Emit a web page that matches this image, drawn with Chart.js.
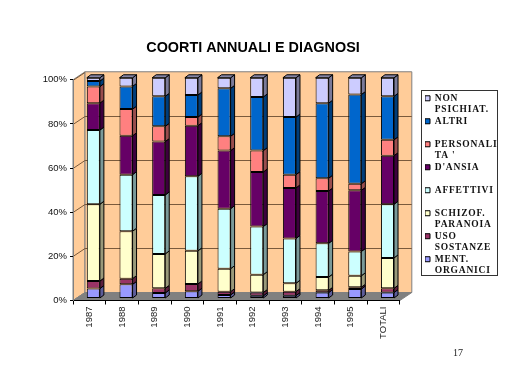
<!DOCTYPE html>
<html><head><meta charset="utf-8">
<style>html,body{margin:0;padding:0;background:#fff}#w{width:505px;height:379px;position:relative}</style>
<script src="https://cdn.jsdelivr.net/npm/chart.js@4"></script>
</head><body><div id="w"><canvas id="c" width="505" height="379"></canvas></div>
<script>
const categories = ['1987','1988','1989','1990','1991','1992','1993','1994','1995','TOTALI'];
const mentOrganici = [4.5,6.4,2.5,3.3,1.6,1.2,1.3,2.7,4.3,2.7];
const usoSostanze = [3.4,2.6,2.1,3.3,1.5,1.5,1.8,1.0,0.8,1.9];
const schizofParanoia = [34.8,21.5,15.6,15.0,10.4,8.1,3.8,6.0,5.2,13.8];
const affettivi = [33.6,25.6,26.7,33.8,27.2,21.8,20.3,15.3,11.0,24.3];
const ansia = [12.2,17.6,24.2,22.9,26.3,24.7,22.9,23.7,27.7,22.0];
const personalita = [7.5,12.1,6.9,3.9,6.5,9.7,6.0,5.8,3.0,7.2];
const altri = [2.5,10.3,13.6,10.0,21.7,24.3,26.1,34.0,40.4,19.7];
const nonPsichiat = [1.5,3.9,8.4,7.8,4.8,8.7,17.8,11.5,7.6,8.4];
const seriesLabels = [['MENT.','ORGANICI'],['USO','SOSTANZE'],['SCHIZOF.','PARANOIA'],['AFFETTIVI',''],["D'ANSIA",''],['PERSONALI',"TA '"],['ALTRI',''],['NON','PSICHIAT.']];
const seriesValues = [mentOrganici,usoSostanze,schizofParanoia,affettivi,ansia,personalita,altri,nonPsichiat];
const seriesColors = ['#9999FF','#993366','#FFFFCC','#CCFFFF','#660066','#FF8080','#0066CC','#CCCCFF'];

function shade(hex,f){
  const n=parseInt(hex.slice(1),16);
  return 'rgb('+[(n>>16)&255,(n>>8)&255,n&255].map(v=>Math.round(v*f)).join(',')+')';
}
function poly(ctx,pts,fill,stroke){
  ctx.beginPath();pts.forEach((p,i)=>i?ctx.lineTo(p[0],p[1]):ctx.moveTo(p[0],p[1]));ctx.closePath();
  if(fill){ctx.fillStyle=fill;ctx.fill();}
  if(stroke){ctx.strokeStyle=stroke;ctx.lineWidth=1;ctx.stroke();}
}
const WALL_DX=12, WALL_DY=-8, BAR_DX=4, BAR_DY=-2, FACE_DX=4, FACE_DY=-3;
const plugin3d={
  id:'plugin3d',
  afterLayout(chart){
    const t=chart.titleBlock;
    if(t){t.left=0;t.right=506;t.width=506;}
    const l=chart.legend;
    if(!l) return;
    const w=72,h=185;
    l.left=425;l.top=93;l.right=425+w;l.bottom=93+h;l.width=w;l.height=h;
    if(!l._wrapped){
      l._wrapped=true;
      const d=l.draw;
      l.draw=function(){const c=this.ctx;c.save();c.letterSpacing='0.8px';d.call(this);c.restore();};
    }
  },
  beforeDraw(chart){
    const {ctx,chartArea:a,scales:{y}}=chart;
    ctx.save();
    poly(ctx,[[a.left,a.bottom],[a.left,a.top],[a.left+WALL_DX,a.top+WALL_DY],[a.left+WALL_DX,a.bottom+WALL_DY]],'#FFCC99','#808080');
    poly(ctx,[[a.left+WALL_DX,a.top+WALL_DY],[a.right+WALL_DX,a.top+WALL_DY],[a.right+WALL_DX,a.bottom+WALL_DY],[a.left+WALL_DX,a.bottom+WALL_DY]],'#FFCC99','#808080');
    poly(ctx,[[a.left,a.bottom],[a.left+WALL_DX,a.bottom+WALL_DY],[a.right+WALL_DX,a.bottom+WALL_DY],[a.right,a.bottom]],'#808080','#808080');
    ctx.strokeStyle='#7a5a3c';ctx.lineWidth=1;
    y.ticks.forEach(t=>{
      if(t.value===0) return;
      const py=Math.round(y.getPixelForValue(t.value))+0.5;
      ctx.beginPath();ctx.moveTo(a.left,py);ctx.lineTo(a.left+WALL_DX,py+WALL_DY);
      if(t.value<100) ctx.lineTo(a.right+WALL_DX,py+WALL_DY);
      ctx.stroke();
    });
    ctx.restore();
  },
  beforeDatasetsDraw(chart){chart.ctx.save();chart.ctx.translate(BAR_DX,BAR_DY);},
  afterDatasetsDraw(chart){
    const ctx=chart.ctx, n=chart.data.datasets.length;
    ctx.lineJoin='round';
    chart.data.datasets.forEach((ds,i)=>{
      chart.getDatasetMeta(i).data.forEach(b=>{
        const L=b.x-b.width/2,R=b.x+b.width/2,T=b.y,B=b.base;
        poly(ctx,[[R,T],[R+FACE_DX,T+FACE_DY],[R+FACE_DX,B+FACE_DY],[R,B]],shade(ds.backgroundColor,0.6),'#000');
        if(i===n-1) poly(ctx,[[L,T],[L+FACE_DX,T+FACE_DY],[R+FACE_DX,T+FACE_DY],[R,T]],shade(ds.backgroundColor,0.65),'#000');
      });
    });
    ctx.restore();
  },
  afterDraw(chart){
    const ctx=chart.ctx;ctx.save();
    ctx.strokeStyle='#333';ctx.lineWidth=1;ctx.strokeRect(421.5,90.5,76,185);
    ctx.fillStyle='#222';ctx.font='10px "Liberation Serif"';ctx.textAlign='left';ctx.textBaseline='middle';
    ctx.fillText('17',453,353);
    ctx.restore();
  }
};
new Chart(document.getElementById('c'),{
  type:'bar',
  plugins:[plugin3d],
  data:{labels:categories,datasets:seriesValues.map((v,i)=>({
    label:seriesLabels[i],data:v,backgroundColor:seriesColors[i],borderColor:'#000',borderWidth:1,borderSkipped:false,
    barPercentage:0.4,categoryPercentage:1
  }))},
  options:{
    responsive:false,animation:false,
    layout:{padding:{top:0,left:0,right:30,bottom:0}},
    plugins:{
      tooltip:{enabled:false},
      title:{display:true,text:'COORTI ANNUALI E DIAGNOSI',color:'#000',
        font:{family:'"Liberation Sans"',size:14.4,weight:'bold'},padding:{top:39,bottom:23.5}},
      legend:{position:'right',reverse:true,
        labels:{boxWidth:5,boxHeight:5,padding:0,color:'#111',
          font:{family:'"Liberation Serif"',size:9.5,weight:'bold',lineHeight:1.21}}}
    },
    scales:{
      x:{stacked:true,
        afterFit(s){s.height=78.5;},
        grid:{drawOnChartArea:false,color:'#000',tickLength:4},
        border:{color:'#000'},
        ticks:{maxRotation:90,minRotation:90,padding:2,color:'#222',font:{family:'"Liberation Sans"',size:9.5},autoSkip:false}},
      y:{stacked:true,min:0,max:100,
        afterFit(s){s.width=73;},
        grid:{drawOnChartArea:false,color:'#000',tickLength:3},
        border:{color:'#808080'},
        ticks:{stepSize:20,padding:3,color:'#111',font:{family:'"Liberation Sans"',size:9.5},callback:v=>v+'%'}}
    }
  }
});
</script></body></html>
